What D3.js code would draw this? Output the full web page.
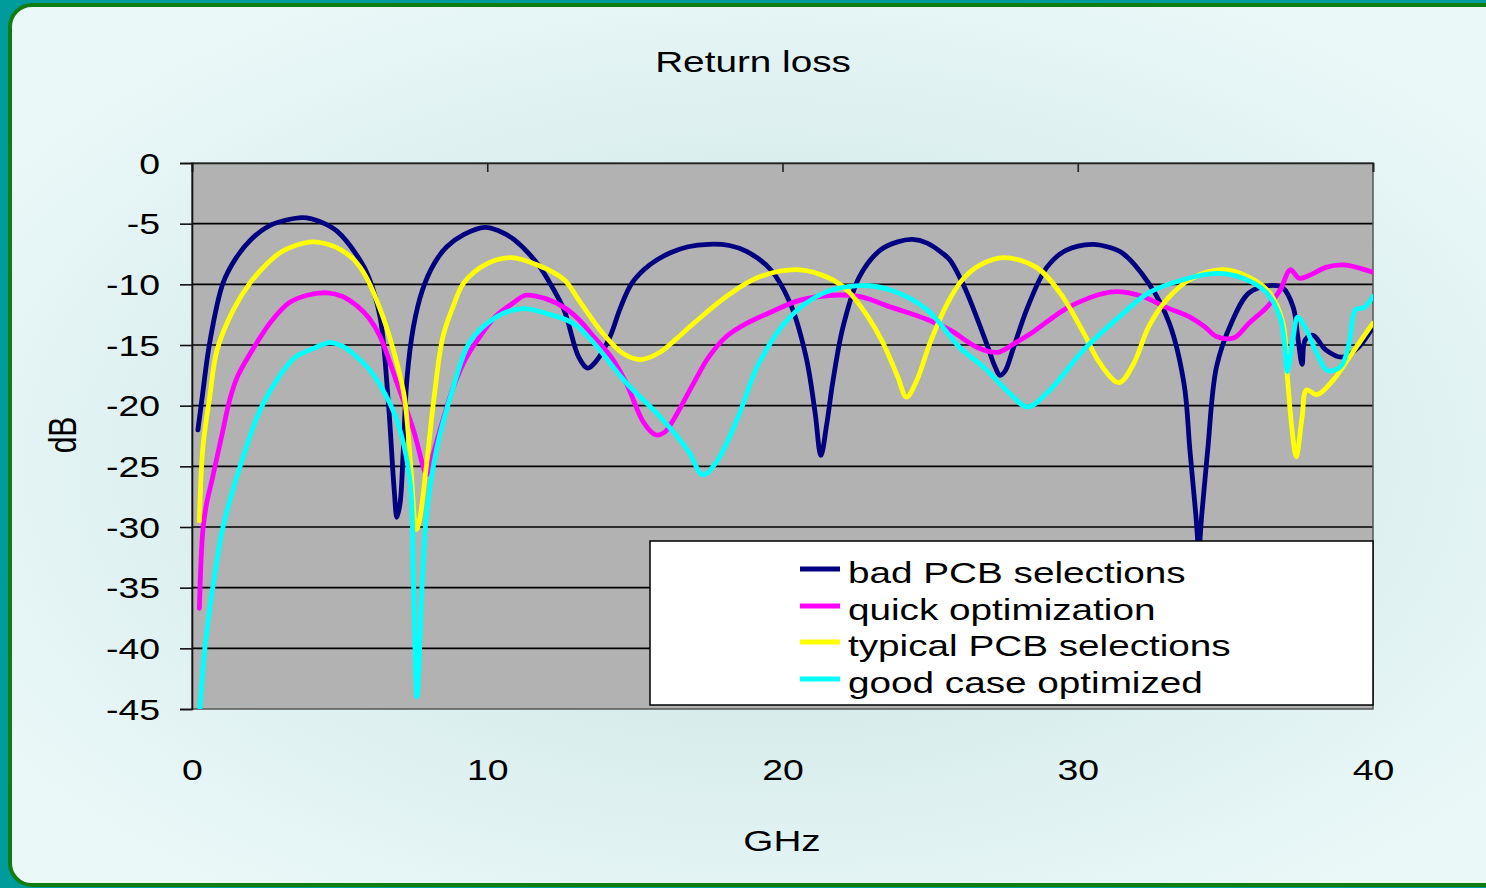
<!DOCTYPE html>
<html>
<head>
<meta charset="utf-8">
<script src="https://cdn.jsdelivr.net/npm/d3@7"></script>
<style>
  html, body { margin: 0; padding: 0; background: #009c9c; }
  svg { display: block; }
  text { font-family: "Liberation Sans", Arial, sans-serif; fill: #000; }
</style>
</head>
<body>
<svg id="chart" width="1486" height="888"></svg>
<script>
// ---------------- DATA ----------------
const chartTitle = "Return loss";
const xLabel = "GHz";
const yLabel = "dB";
const xTicks = [0, 10, 20, 30, 40];
const yTicks = [0, -5, -10, -15, -20, -25, -30, -35, -40, -45];
const seriesNames = ["bad PCB selections", "quick optimization", "typical PCB selections", "good case optimized"];
const seriesColors = ["#000080", "#ff00ff", "#ffff00", "#00ffff"];

const badFreq = [0.2,0.34,0.6,1.05,1.5,2.0,2.6,3.2,3.76,4.3,4.9,5.69,6.0,6.37,6.64,6.85,6.94,7.05,7.15,7.28,7.5,7.8,8.2,8.63,9.2,9.92,10.4,10.9,11.7,12.1,12.6,13.1,13.4,13.7,14.16,14.5,14.9,15.5,16.2,16.8,17.5,18.2,18.8,19.6,20.25,20.8,21.1,21.3,21.5,21.7,22.05,22.6,23.3,23.9,24.4,24.9,25.4,25.67,26.1,26.35,26.9,27.2,27.37,27.55,27.8,28.3,28.95,29.6,30.5,31.0,31.5,32.4,33.1,33.6,33.8,34.0,34.1,34.2,34.4,34.7,35.2,35.8,36.5,36.95,37.3,37.45,37.6,37.7,37.97,38.4,38.95,39.5,40];
const badDB = [-22,-19.4,-14.8,-9.9,-7.8,-6.3,-5.2,-4.7,-4.5,-4.8,-5.6,-8.0,-9.5,-12.7,-19.4,-27,-29.2,-28,-24,-17.8,-13.5,-10.5,-8.3,-6.9,-5.9,-5.3,-5.6,-6.3,-8.3,-9.8,-12.1,-16,-16.9,-16.3,-14.3,-12,-9.9,-8.4,-7.4,-6.9,-6.7,-6.8,-7.3,-8.8,-11.5,-16,-20.5,-24.1,-21.5,-18.1,-13.5,-9.4,-7.2,-6.5,-6.3,-6.6,-7.4,-8.0,-9.9,-11.3,-14.8,-16.8,-17.5,-17.1,-15.4,-11.9,-8.6,-7.2,-6.7,-6.9,-7.4,-9.9,-13.2,-18.2,-23.7,-29,-31.8,-29,-23.7,-16.8,-13.2,-10.7,-10.1,-10.3,-11.9,-14.3,-16.6,-14.6,-14.2,-15.4,-16,-15.2,-13.5];

const quickFreq = [0.25,0.37,0.5,0.68,1.05,1.29,1.56,2.2,2.7,3.3,3.9,4.57,5.1,5.6,6.0,6.37,6.94,7.5,7.95,8.05,8.4,8.85,9.3,9.75,10.3,10.9,11.3,12.0,12.6,13.1,13.6,14.2,14.7,15.3,15.7,16.0,16.3,17.0,17.5,18.1,18.8,19.5,20.6,21.7,22.6,23.7,24.9,25.7,26.6,27.3,27.9,28.5,29.06,29.6,30.2,30.8,31.3,32.2,33.0,33.8,34.3,34.7,35.3,35.8,36.4,36.85,37.2,37.5,37.9,38.4,39.0,39.6,40];
const quickDB = [-36.7,-30.2,-28,-26.1,-22,-19.4,-17.5,-14.8,-13,-11.5,-10.9,-10.7,-11.0,-11.8,-12.8,-14.3,-18.1,-22,-25.7,-25,-22,-18.5,-16,-14.3,-12.6,-11.5,-10.9,-11.2,-11.9,-12.9,-14.3,-16,-18.1,-21.4,-22.4,-22.2,-21.2,-18.1,-16.0,-14.3,-13.2,-12.4,-11.3,-10.9,-11.0,-11.9,-12.9,-13.8,-15.2,-15.6,-14.8,-13.9,-12.9,-12.0,-11.3,-10.8,-10.6,-11.0,-11.9,-12.7,-13.5,-14.3,-14.4,-13.2,-11.9,-10.5,-8.8,-9.5,-9.2,-8.6,-8.4,-8.7,-9.0];

const typicalFreq = [0.25,0.37,0.6,0.85,1.4,1.96,2.5,2.98,3.5,4.1,4.6,5.0,5.5,5.9,6.47,6.94,7.2,7.4,7.6,7.7,7.95,8.2,8.5,8.85,9.2,10.0,10.8,11.7,12.6,13.1,13.9,14.6,15.2,15.85,16.4,17.0,18.1,19.2,20.6,21.5,22.2,22.9,23.4,23.9,24.2,24.55,25.0,25.6,26.1,26.7,27.5,28.6,29.4,30.2,30.75,31.4,31.9,32.4,33.0,33.8,34.9,35.8,36.5,36.95,37.1,37.25,37.4,37.6,37.75,38.1,38.65,39.2,40];
const typicalDB = [-29.5,-23.4,-19.3,-15.4,-12.1,-9.9,-8.4,-7.4,-6.8,-6.5,-6.7,-7.1,-8.0,-9.4,-12.7,-16.5,-19.4,-24.7,-30.2,-29.5,-24.7,-19.3,-14.3,-11.8,-9.9,-8.3,-7.8,-8.4,-9.6,-11.3,-14.0,-15.7,-16.2,-15.6,-14.5,-13.2,-11.0,-9.4,-8.8,-9.4,-10.5,-12.7,-14.8,-17.6,-19.3,-17.9,-14.8,-11.5,-9.6,-8.4,-7.8,-8.6,-10.7,-14.0,-16.5,-18.1,-16.5,-13.5,-11.3,-9.6,-8.8,-9.4,-10.7,-13.2,-17.6,-21.8,-24.2,-20.9,-18.7,-19.1,-17.9,-16,-13.2];

const goodFreq = [0.25,0.44,0.71,1.05,1.63,2.3,2.98,3.5,4.1,4.67,5.1,5.45,6.0,6.37,6.94,7.38,7.5,7.62,7.8,7.95,8.3,8.85,9.4,10.3,11.2,12.0,12.9,13.6,14.7,15.85,16.8,17.3,17.8,18.5,19.2,20.25,21.4,22.6,23.7,24.9,26.0,26.8,27.7,28.3,29.06,30.2,31.3,32.4,33.6,34.7,35.6,36.4,36.85,37.0,37.1,37.3,37.45,37.75,38.1,38.45,38.9,39.2,39.4,39.7,40];
const goodDB = [-45.5,-39.9,-34.9,-30.0,-25.0,-20.4,-17.5,-16,-15.3,-14.8,-15.1,-15.7,-17,-18.3,-21.2,-26.1,-34.4,-44.0,-34.4,-28.8,-23.4,-18.5,-14.8,-12.7,-12.0,-12.4,-13.2,-14.8,-18.1,-20.9,-23.7,-25.7,-24.5,-20.9,-16.5,-12.7,-10.7,-10.1,-10.5,-12.1,-15.2,-16.8,-19.0,-20.1,-18.7,-15.4,-12.9,-10.7,-9.6,-9.1,-9.5,-10.7,-12.7,-14.8,-17.2,-14.3,-12.7,-13.8,-15.7,-17.1,-16.8,-14.8,-12.1,-11.9,-11.0];

const seriesFreq = [badFreq, quickFreq, typicalFreq, goodFreq];
const seriesDB = [badDB, quickDB, typicalDB, goodDB];

// ---------------- LAYOUT ----------------
const plot = { left: 192, right: 1373, top: 163, bottom: 709 };
const SX = 1.29; // horizontal stretch of the lettering
const FONT = "'Liberation Sans', Arial, sans-serif";
const fmt = d => String(d); // plain hyphen-minus

const svg = d3.select("#chart");
const defs = svg.append("defs");

const bg = defs.append("radialGradient").attr("id", "bgGrad")
  .attr("cx", "50%").attr("cy", "52%").attr("r", "62%");
bg.append("stop").attr("offset", "0%").attr("stop-color", "#cadfdf");
bg.append("stop").attr("offset", "55%").attr("stop-color", "#dbeeee");
bg.append("stop").attr("offset", "100%").attr("stop-color", "#ebf8f8");

defs.append("clipPath").attr("id", "plotClip").append("rect")
  .attr("x", 192).attr("y", 163).attr("width", 1181).attr("height", 546);

// panel
svg.append("rect").attr("x", 10).attr("y", 5).attr("width", 1520).attr("height", 880)
  .attr("rx", 22).attr("ry", 22)
  .attr("fill", "url(#bgGrad)").attr("stroke", "#107d10").attr("stroke-width", 4);

const x = d3.scaleLinear().domain([0, 40]).range([plot.left, plot.right]);
const y = d3.scaleLinear().domain([-45, 0]).range([plot.bottom, plot.top]);

// plot area
svg.append("rect").attr("x", x(0)).attr("y", y(0))
  .attr("width", x(40) - x(0)).attr("height", y(-45) - y(0))
  .attr("fill", "#b2b2b2");

// grid lines
svg.append("g").selectAll("line").data(yTicks.filter(d => d !== 0 && d !== -45)).join("line")
  .attr("x1", x(0)).attr("x2", x(40))
  .attr("y1", d => y(d)).attr("y2", d => y(d))
  .attr("stroke", "#000").attr("stroke-width", 1.6);

// plot border
svg.append("rect").attr("x", x(0)).attr("y", y(0))
  .attr("width", x(40) - x(0)).attr("height", y(-45) - y(0))
  .attr("fill", "none").attr("stroke", "#555").attr("stroke-width", 1.5);

// x axis tick marks at top (axis crossing at 0 dB)
const xTop = svg.append("g").attr("transform", `translate(0,${y(0)})`)
  .call(d3.axisBottom(x).tickValues(xTicks).tickSize(9).tickFormat(""));
xTop.select(".domain").attr("stroke", "#222").attr("stroke-width", 1.6);
xTop.selectAll("line").attr("stroke", "#222").attr("stroke-width", 1.6);

// x tick labels (low position)
const xLab = svg.append("g").attr("transform", `translate(0,${y(-45)})`)
  .call(d3.axisBottom(x).tickValues(xTicks).tickSize(0).tickPadding(0).tickFormat(fmt));
xLab.select(".domain").remove();
xLab.selectAll("text")
  .attr("y", 0).attr("dy", 0).attr("x", 0)
  .attr("transform", `translate(0,71) scale(${SX},1)`)
  .style("font-size", "29px").style("font-family", FONT);

// y axis
const yAx = svg.append("g").attr("transform", `translate(${x(0)},0)`)
  .call(d3.axisLeft(y).tickValues(yTicks).tickSize(12).tickPadding(0).tickFormat(fmt));
yAx.select(".domain").attr("stroke", "#111").attr("stroke-width", 1.6);
yAx.selectAll("line").attr("stroke", "#111").attr("stroke-width", 1.6);
yAx.selectAll("text")
  .attr("x", 0).attr("dy", 0)
  .attr("transform", `translate(-32,10) scale(${SX},1)`)
  .attr("text-anchor", "end")
  .style("font-size", "29px").style("font-family", FONT);

// series
const line = d3.line().curve(d3.curveCatmullRom.alpha(0.5)).x(d => x(d[0])).y(d => y(d[1]));
const gLines = svg.append("g").attr("clip-path", "url(#plotClip)");
seriesNames.forEach((name, i) => {
  const pts = seriesFreq[i].map((f, k) => [f, seriesDB[i][k]]);
  gLines.append("path").datum(pts)
    .attr("d", line).attr("fill", "none")
    .attr("stroke", seriesColors[i]).attr("stroke-width", 4.8)
    .attr("stroke-linejoin", "round").attr("stroke-linecap", "round");
});

// helper for stretched text
function sText(g, tx, ty, str, size, anchor) {
  return g.append("text")
    .attr("transform", `translate(${tx},${ty}) scale(${SX},1)`)
    .attr("text-anchor", anchor || "start")
    .style("font-size", size + "px")
    .text(str);
}

// title and axis titles
sText(svg, 753, 72, chartTitle, 30, "middle");
sText(svg, 782, 851, xLabel, 30, "middle");
svg.append("text")
  .attr("transform", `translate(76,435) rotate(-90) scale(1,${SX})`)
  .attr("text-anchor", "middle").style("font-size", "30px").text(yLabel);

// legend
const leg = svg.append("g");
leg.append("rect").attr("x", 650).attr("y", 541).attr("width", 723).attr("height", 164)
  .attr("fill", "#fff").attr("stroke", "#000").attr("stroke-width", 1.5);
const legBase = [583, 620, 656, 693];
seriesNames.forEach((name, i) => {
  leg.append("line").attr("x1", 800).attr("x2", 840)
    .attr("y1", legBase[i] - 14).attr("y2", legBase[i] - 14)
    .attr("stroke", seriesColors[i]).attr("stroke-width", 4.8);
  sText(leg, 848, legBase[i], name, 30, "start");
});
</script>
</body>
</html>
